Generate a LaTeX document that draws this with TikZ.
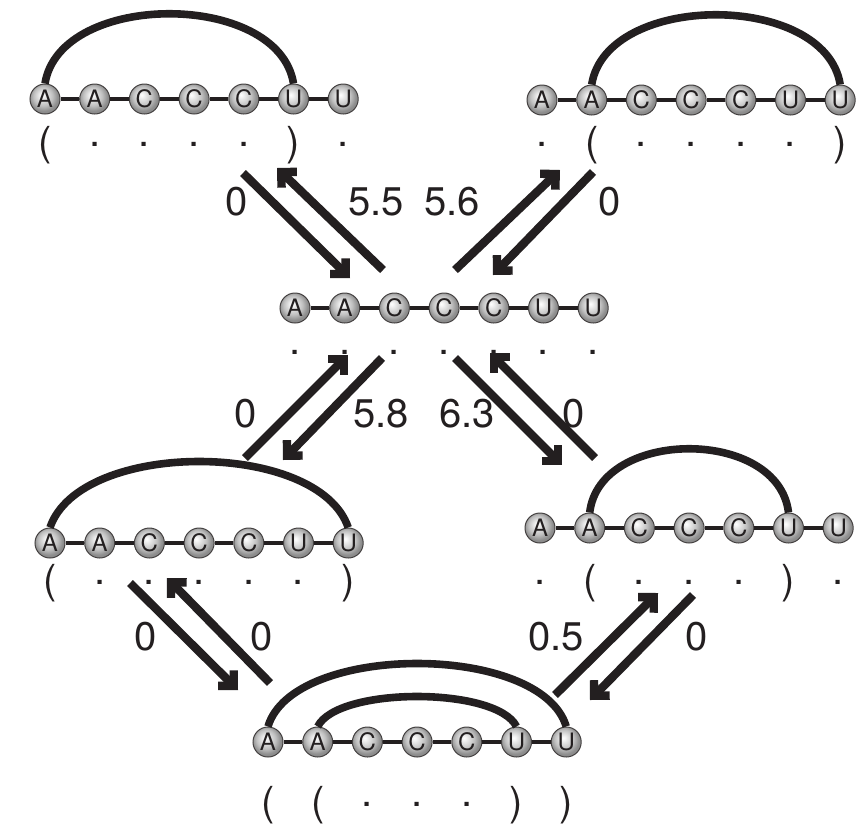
\documentclass[tikz,border=0pt]{standalone}
\usepackage{fontspec}
\setmainfont{TeX Gyre Heros}
\usetikzlibrary{arrows.meta, positioning, calc}
\definecolor{ink}{RGB}{35,31,32}
\pgfdeclareradialshading{bead}{\pgfpoint{-5bp}{7bp}}{%
  color(0bp)=(white); color(3bp)=(white!96!black); color(16bp)=(black!25);
  color(24bp)=(black!45); color(50bp)=(black!45)}
\newcommand{\dbopen}{(}
\newcommand{\dbclose}{)}
\newcommand{\dbdot}{\raisebox{0.22em}{.}}
\tikzset{
  base/.style={circle, inner sep=0pt, minimum size=15pt, draw=ink!85, line width=0.5pt, shading=bead, text=ink, font=\fontsize{12}{14}\selectfont},
  backbone/.style={line width=1.6pt, draw=ink},
  pair/.style={line width=3.8pt, draw=ink},
  bracket/.style={anchor=base, inner sep=0pt, text=ink, font=\fontsize{20}{24}\selectfont},
  rate/.style={inner sep=0pt, text=ink, font=\fontsize{20}{24}\selectfont},
  arrow/.style={line width=4.2pt, draw=ink, -{Straight Barb[length=5.5pt, width=11pt, line join=miter, line cap=butt]}}
}
% seven bases of a strand, the backbone and the bracket line underneath
% #1 name, #2 x of first base, #3 y of bases, #4 baseline of brackets, #5 brackets
\newcommand{\strand}[5]{%
  \foreach \nt [count=\i] in {A,A,C,C,C,U,U}
    \node (#1-\i) [base] at ({#2+49.7*(\i-1)},#3) {\nt};
  \foreach \i [remember=\i as \j (initially 1)] in {2,...,7}
    \draw [backbone] (#1-\j) -- (#1-\i);
  \foreach \s [count=\i] in {#5}
    \node (#1-s\i) [bracket] at ({#2+49.7*(\i-1)},#4) {\s};
}

\begin{document}
\begin{tikzpicture}[x=0.5pt, y=-0.5pt]
  \useasboundingbox (0,0) rectangle (858,837);
  % the six structures
  \strand{tl}{45}{99}{155}{\dbopen,\dbdot,\dbdot,\dbdot,\dbdot,\dbclose,\dbdot}
  \strand{tr}{542}{100}{155}{\dbdot,\dbopen,\dbdot,\dbdot,\dbdot,\dbdot,\dbclose}
  \strand{mid}{295}{308}{363}{\dbdot,\dbdot,\dbdot,\dbdot,\dbdot,\dbdot,\dbdot}
  \strand{bl}{50}{543}{593}{\dbopen,\dbdot,\dbdot,\dbdot,\dbdot,\dbdot,\dbclose}
  \strand{br}{540}{528}{593}{\dbdot,\dbopen,\dbdot,\dbdot,\dbdot,\dbclose,\dbdot}
  \strand{bot}{268}{742}{815}{\dbopen,\dbopen,\dbdot,\dbdot,\dbdot,\dbclose,\dbclose}
  % base pairs
  \draw [pair] (tl-1.north) .. controls +(15,-93) and +(-15,-93) .. (tl-6.north);
  \draw [pair] (tr-2.north) .. controls +(15,-93) and +(-15,-93) .. (tr-7.north);
  \draw [pair] (bl-1.north) .. controls +(30,-88) and +(-30,-88) .. (bl-7.north);
  \draw [pair] (br-2.north) .. controls +(10,-85) and +(-10,-85) .. (br-6.north);
  \draw [pair] (bot-1.north) .. controls +(25,-84) and +(-25,-84) .. (bot-7.north);
  \draw [pair] (bot-2.north) .. controls +(20,-40) and +(-20,-40) .. (bot-6.north);
  % ends of the transition arrows
  \coordinate (tl2mid-s) at (243,173);  \coordinate (tl2mid-e) at (350,278);
  \coordinate (mid2tl-s) at (383,270);  \coordinate (mid2tl-e) at (277,168);
  \coordinate (mid2tr-s) at (455,270);  \coordinate (mid2tr-e) at (560,170);
  \coordinate (tr2mid-s) at (593,172);  \coordinate (tr2mid-e) at (493,275);
  \coordinate (bl2mid-s) at (245,458);  \coordinate (bl2mid-e) at (348,355);
  \coordinate (mid2bl-s) at (382,358);  \coordinate (mid2bl-e) at (283,460);
  \coordinate (mid2br-s) at (455,358);  \coordinate (mid2br-e) at (562,465);
  \coordinate (br2mid-s) at (595,458);  \coordinate (br2mid-e) at (490,353);
  \coordinate (bl2bot-s) at (130,583);  \coordinate (bl2bot-e) at (238,690);
  \coordinate (bot2bl-s) at (270,683);  \coordinate (bot2bl-e) at (167,578);
  \coordinate (bot2br-s) at (555,695);  \coordinate (bot2br-e) at (658,593);
  \coordinate (br2bot-s) at (693,595);  \coordinate (br2bot-e) at (590,700);
  % transitions and their energies
  \draw [arrow] (tl2mid-s) -- (tl2mid-e);
  \draw [arrow] (mid2tl-s) -- (mid2tl-e);
  \draw [arrow] (mid2tr-s) -- (mid2tr-e);
  \draw [arrow] (tr2mid-s) -- (tr2mid-e);
  \draw [arrow] (bl2mid-s) -- (bl2mid-e);
  \draw [arrow] (mid2bl-s) -- (mid2bl-e);
  \draw [arrow] (mid2br-s) -- (mid2br-e);
  \draw [arrow] (br2mid-s) -- (br2mid-e);
  \draw [arrow] (bl2bot-s) -- (bl2bot-e);
  \draw [arrow] (bot2bl-s) -- (bot2bl-e);
  \draw [arrow] (bot2br-s) -- (bot2br-e);
  \draw [arrow] (br2bot-s) -- (br2bot-e);
  \node (e-tl2mid) [rate] at (237,202) {0};
  \node (e-mid2tl) [rate] at (376,202) {5.5};
  \node (e-mid2tr) [rate] at (452,202) {5.6};
  \node (e-tr2mid) [rate] at (610,202) {0};
  \node (e-bl2mid) [rate] at (246,414) {0};
  \node (e-mid2bl) [rate] at (381,414) {5.8};
  \node (e-mid2br) [rate] at (467,414) {6.3};
  \node (e-br2mid) [rate] at (574,414) {0};
  \node (e-bl2bot) [rate] at (146,637) {0};
  \node (e-bot2bl) [rate] at (262,637) {0};
  \node (e-bot2br) [rate] at (556,637) {0.5};
  \node (e-br2bot) [rate] at (697,637) {0};
\end{tikzpicture}
\end{document}
